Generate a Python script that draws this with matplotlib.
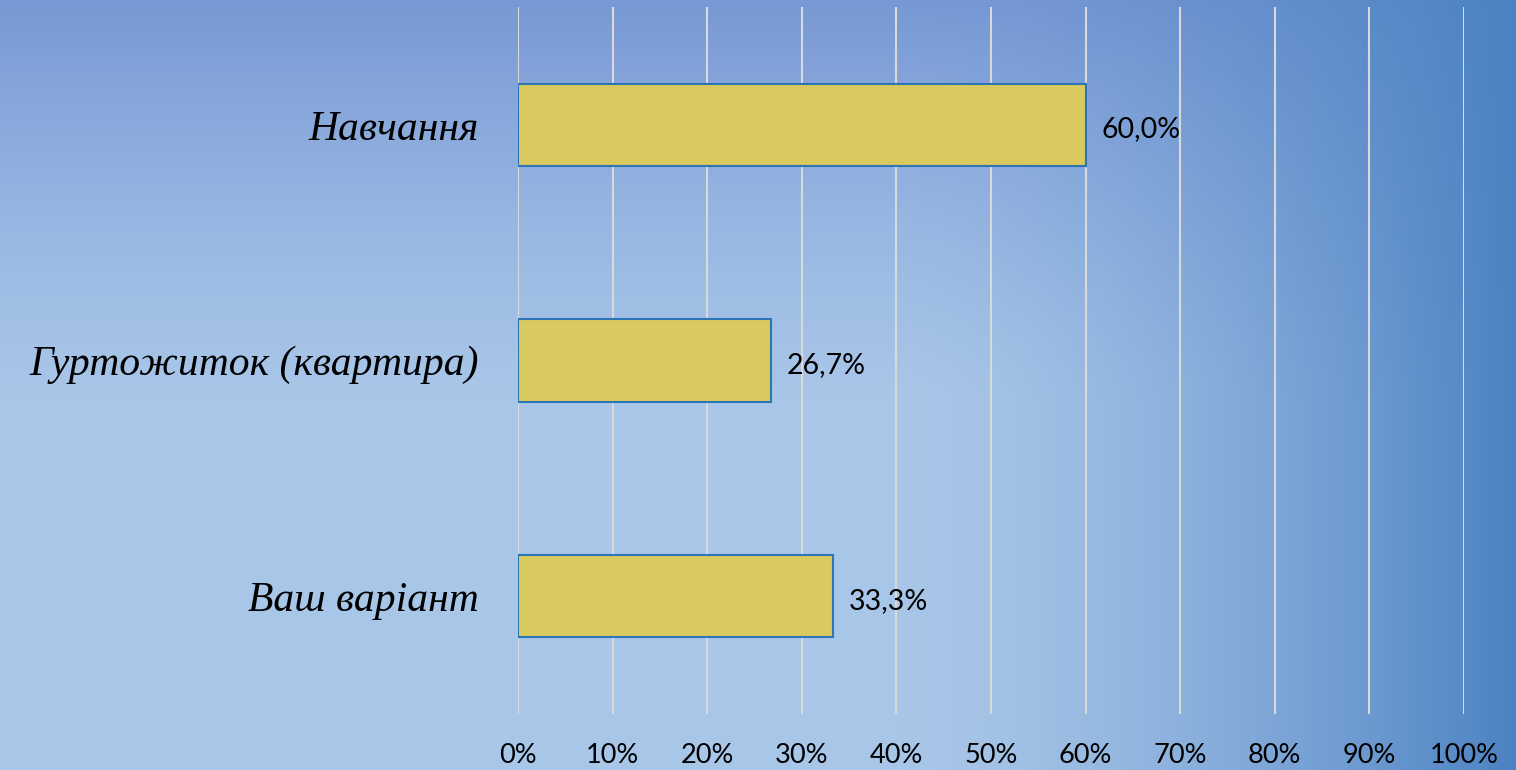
import numpy as np
import matplotlib.pyplot as plt

categories = ['Навчання', 'Гуртожиток (квартира)', 'Ваш варіант']
values = [60.0, 26.7, 33.3]
x_ticks = [0, 10, 20, 30, 40, 50, 60, 70, 80, 90, 100]

W, H = 1516, 770
fig = plt.figure(figsize=(W / 100, H / 100), dpi=100)

# background gradient (light middle-left, darker top and right)
yy, xx = np.mgrid[0:H, 0:W].astype(float)
light = np.array([168, 198, 232]) / 255
top_col = np.array([120, 152, 213]) / 255
right_col = np.array([76, 130, 195]) / 255
t_v = np.clip((400 - yy) / 400, 0, 1) ** 1.3
t_h = np.clip((xx - 900) / 616, 0, 1) ** 1.5
img = light * (1 - t_v[..., None]) + top_col * t_v[..., None]
img = img * (1 - t_h[..., None]) + right_col * t_h[..., None]
bg = fig.add_axes([0, 0, 1, 1], zorder=0)
bg.imshow(img, aspect='auto', extent=[0, 1, 0, 1])
bg.axis('off')

ax = fig.add_axes([518 / W, 1 - 714 / H, 946 / W, 707 / H], zorder=1)
ax.patch.set_alpha(0)

ypos = np.arange(len(categories))
ax.barh(ypos, values, height=0.35, color='#D9C95E', edgecolor='#2E75B6',
        linewidth=1.5, zorder=3)
for y, v in zip(ypos, values):
    ax.text(v + 1.7, y + 0.02, f'{v:.1f}%'.replace('.', ','), va='center',
            ha='left', fontsize=20.5, family=['Lato', 'DejaVu Sans'],
            color='black')

ax.set_xlim(0, 100)
ax.set_ylim(len(categories) - 0.5, -0.5)
ax.set_xticks(x_ticks)
ax.set_xticklabels([f'{t}%' for t in x_ticks], fontsize=19.5,
                   family=['Lato', 'DejaVu Sans'])
ax.set_yticks(ypos)
ax.set_yticklabels(categories, fontsize=30, style='italic',
                   family=['Liberation Serif', 'DejaVu Serif'])
ax.tick_params(axis='both', length=0)
ax.tick_params(axis='x', pad=21)
ax.tick_params(axis='y', pad=28)
ax.grid(axis='x', color='#D9D9D9', linewidth=1.5, zorder=1)
ax.set_axisbelow(True)
for s in ax.spines.values():
    s.set_visible(False)

fig.savefig('out.png', dpi=100)
